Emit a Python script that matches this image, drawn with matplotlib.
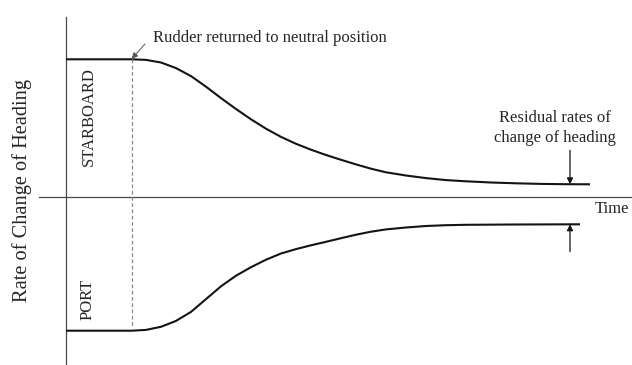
import matplotlib
matplotlib.use("Agg")
import matplotlib.pyplot as plt

# ---- data (time, rate of change of heading) ----
starboard_time = [0, 65.7, 80, 95, 110, 125, 140, 155, 170, 185, 200, 215, 230, 245,
                  260, 275, 290, 305, 320, 340, 360, 380, 400, 425, 450, 475, 500, 524]
starboard_rate = [138, 138, 137.4, 134.8, 129.2, 121.2, 110.6, 99.2, 88.3, 78, 68.6,
                  60.4, 53.5, 47.6, 42.3, 37.5, 32.9, 28.6, 25, 21.8, 19.2, 17.2, 16,
                  14.8, 14, 13.4, 13.1, 13]

port_time = [0, 65.7, 80, 95, 110, 125, 140, 155, 170, 185, 200, 215, 230, 245, 260,
             275, 290, 305, 320, 340, 360, 380, 400, 450, 514]
port_rate = [-133.4, -133.4, -132.6, -129.5, -123.6, -114.6, -101.8, -89, -78.4,
             -69.9, -62.4, -56.2, -51.8, -48, -44.5, -40.9, -37.4, -34.4, -32.1,
             -30.2, -28.7, -27.9, -27.5, -27.2, -27]

rudder_time = 65.7
residual_time = 504

plt.rcParams['font.family'] = ['Liberation Serif', 'DejaVu Serif']

fig = plt.figure(figsize=(6.32, 3.65), dpi=100)
ax = fig.add_axes([0, 0, 1, 1])
ax.set_xlim(-66, 566)
ax.set_ylim(-167.7, 197.3)
ax.axis('off')

axis_col = '#4a4a4a'
line_col = '#141414'
text_col = '#262626'

# axes
ax.plot([0, 0], [180.3, -170], color=axis_col, lw=0.9)
ax.plot([-27, 570], [0, 0], color=axis_col, lw=0.9)

# curves
ax.plot(starboard_time, starboard_rate, color=line_col, lw=1.5,
        solid_capstyle='butt', solid_joinstyle='round')
ax.plot(port_time, port_rate, color=line_col, lw=1.5,
        solid_capstyle='butt', solid_joinstyle='round')

# dashed rudder line
ax.plot([rudder_time, rudder_time], [starboard_rate[1], -129.7], color='#8a8a8a',
        lw=0.9, ls=(0, (3, 2)))

# annotation for rudder
ax.annotate('', xy=(rudder_time, starboard_rate[1] + 0.5), xytext=(79, 153.3),
            arrowprops=dict(arrowstyle='-|>', color='#555555', lw=0.7,
                            mutation_scale=9, shrinkA=0, shrinkB=0))
ax.text(87, 159.3, 'Rudder returned to neutral position', fontsize=12,
        color=text_col, va='center', ha='left')

# residual arrows
ax.annotate('', xy=(residual_time, starboard_rate[-1]), xytext=(residual_time, 47),
            arrowprops=dict(arrowstyle='-|>', color=line_col, lw=0.9,
                            mutation_scale=9, shrinkA=0, shrinkB=0))
ax.annotate('', xy=(residual_time, port_rate[-1]), xytext=(residual_time, -54.4),
            arrowprops=dict(arrowstyle='-|>', color=line_col, lw=0.9,
                            mutation_scale=9, shrinkA=0, shrinkB=0))
ax.text(489, 79.3, 'Residual rates of', fontsize=12, color=text_col,
        ha='center', va='center')
ax.text(489, 59.3, 'change of heading', fontsize=12, color=text_col,
        ha='center', va='center')

ax.text(546, -11.7, 'Time', fontsize=12, color=text_col, ha='center', va='center')
ax.text(-44, 6.3, 'Rate of Change of Heading', fontsize=14.7, color=text_col,
        ha='center', va='center', rotation=90)
ax.text(23, 80.3, 'STARBOARD', fontsize=12, color=text_col, ha='center',
        va='center', rotation=90)
ax.text(22, -101.7, 'PORT', fontsize=12, color=text_col, ha='center',
        va='center', rotation=90)

fig.savefig('out.png', dpi=100)
